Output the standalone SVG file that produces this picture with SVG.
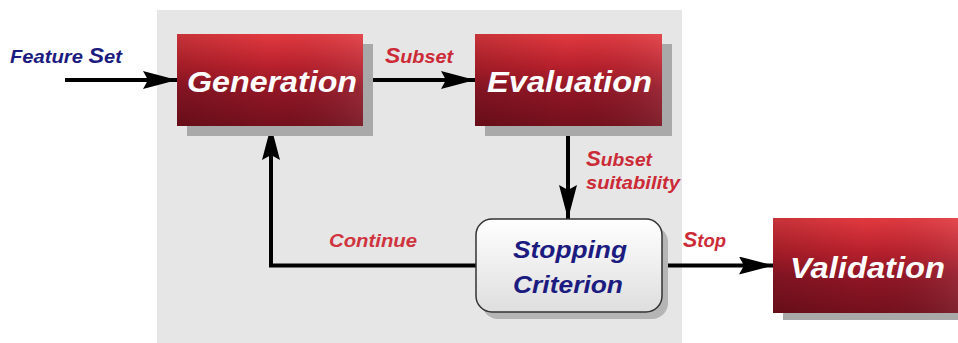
<svg xmlns="http://www.w3.org/2000/svg" width="958" height="343" viewBox="0 0 958 343">
<defs>
  <linearGradient id="red" x1="0" y1="0" x2="0" y2="1">
    <stop offset="0" stop-color="#e23a40"/>
    <stop offset="0.35" stop-color="#b8202c"/>
    <stop offset="0.6" stop-color="#921626"/>
    <stop offset="1" stop-color="#74101c"/>
  </linearGradient>
  <linearGradient id="redH" x1="0" y1="0" x2="1" y2="0">
    <stop offset="0" stop-color="#000" stop-opacity="0.12"/>
    <stop offset="0.5" stop-color="#000" stop-opacity="0"/>
    <stop offset="1" stop-color="#fff" stop-opacity="0.08"/>
  </linearGradient>
  <linearGradient id="pale" x1="0" y1="0" x2="0" y2="1">
    <stop offset="0" stop-color="#ffffff"/>
    <stop offset="1" stop-color="#dedede"/>
  </linearGradient>
  <marker id="ah" markerUnits="userSpaceOnUse" markerWidth="36" markerHeight="18" refX="34" refY="9" orient="auto">
    <path d="M0,0 L34,9 L0,18 L5,9 Z" fill="#000"/>
  </marker>
  <style>
    .shadow{fill:#a9a9a9}
    .redbox{fill:url(#red)}
    .sheen{fill:url(#redH)}
    .title{font-family:"Liberation Sans",Arial,sans-serif;font-weight:bold;font-style:italic;fill:#ffffff;font-size:30px}
    .lbl{font-family:"Liberation Sans",Arial,sans-serif;font-weight:bold;font-style:italic;font-size:19px}
    .red{fill:#cc2a36}
    .blue{fill:#1c1c80}
    .big{font-size:22px}
    .conn{stroke:#000;stroke-width:4;fill:none}
  </style>
</defs>
<rect x="157" y="10" width="525" height="333" fill="#e6e6e6"/>

<g id="connectors">
  <line class="conn" x1="65" y1="80" x2="177" y2="80" marker-end="url(#ah)"/>
  <line class="conn" x1="363" y1="80" x2="475" y2="80" marker-end="url(#ah)"/>
  <line class="conn" x1="568" y1="126" x2="568" y2="219" marker-end="url(#ah)"/>
  <polyline class="conn" points="476,265.5 271,265.5 271,126" marker-end="url(#ah)"/>
  <line class="conn" x1="662" y1="265.5" x2="773" y2="265.5" marker-end="url(#ah)"/>
</g>

<g id="labels">
  <text class="lbl blue" x="10" y="63" textLength="112" lengthAdjust="spacingAndGlyphs">Feature <tspan class="big">S</tspan>et</text>
  <text class="lbl red" x="385" y="63" textLength="68" lengthAdjust="spacingAndGlyphs"><tspan class="big">S</tspan>ubset</text>
  <text class="lbl red" x="586" y="166" textLength="66" lengthAdjust="spacingAndGlyphs"><tspan class="big">S</tspan>ubset</text>
  <text class="lbl red" x="586" y="189" textLength="94" lengthAdjust="spacingAndGlyphs">suitability</text>
  <text class="lbl red" x="329" y="247" textLength="88" lengthAdjust="spacingAndGlyphs" style="fill:#d0343f">Continue</text>
  <text class="lbl red" x="683" y="247" textLength="43" lengthAdjust="spacingAndGlyphs"><tspan class="big">S</tspan>top</text>
</g>

<g id="generation">
  <rect class="shadow" x="187" y="44" width="186" height="92"/>
  <rect class="redbox" x="177" y="34" width="186" height="92"/>
  <rect class="sheen" x="177" y="34" width="186" height="92"/>
  <text class="title" x="187" y="92" textLength="170" lengthAdjust="spacingAndGlyphs">Generation</text>
</g>

<g id="evaluation">
  <rect class="shadow" x="485" y="44" width="187" height="92"/>
  <rect class="redbox" x="475" y="34" width="187" height="92"/>
  <rect class="sheen" x="475" y="34" width="187" height="92"/>
  <text class="title" x="487" y="92" textLength="165" lengthAdjust="spacingAndGlyphs">Evaluation</text>
</g>

<g id="stopping">
  <rect x="482" y="226" width="186" height="93" rx="16" fill="#b5b5b5"/>
  <rect x="476" y="219" width="186" height="93" rx="16" fill="url(#pale)" stroke="#333" stroke-width="1.5"/>
  <text class="title" x="570" y="258" text-anchor="middle" style="fill:#1c1c80;font-size:24px" textLength="114" lengthAdjust="spacingAndGlyphs">Stopping</text>
  <text class="title" x="568" y="293" text-anchor="middle" style="fill:#1c1c80;font-size:24px" textLength="110" lengthAdjust="spacingAndGlyphs">Criterion</text>
</g>

<g id="validation">
  <rect class="shadow" x="783" y="228" width="175" height="92"/>
  <rect class="redbox" x="773" y="218" width="185" height="95"/>
  <rect class="sheen" x="773" y="218" width="185" height="95"/>
  <text class="title" x="790" y="278" textLength="155" lengthAdjust="spacingAndGlyphs">Validation</text>
</g>
</svg>
